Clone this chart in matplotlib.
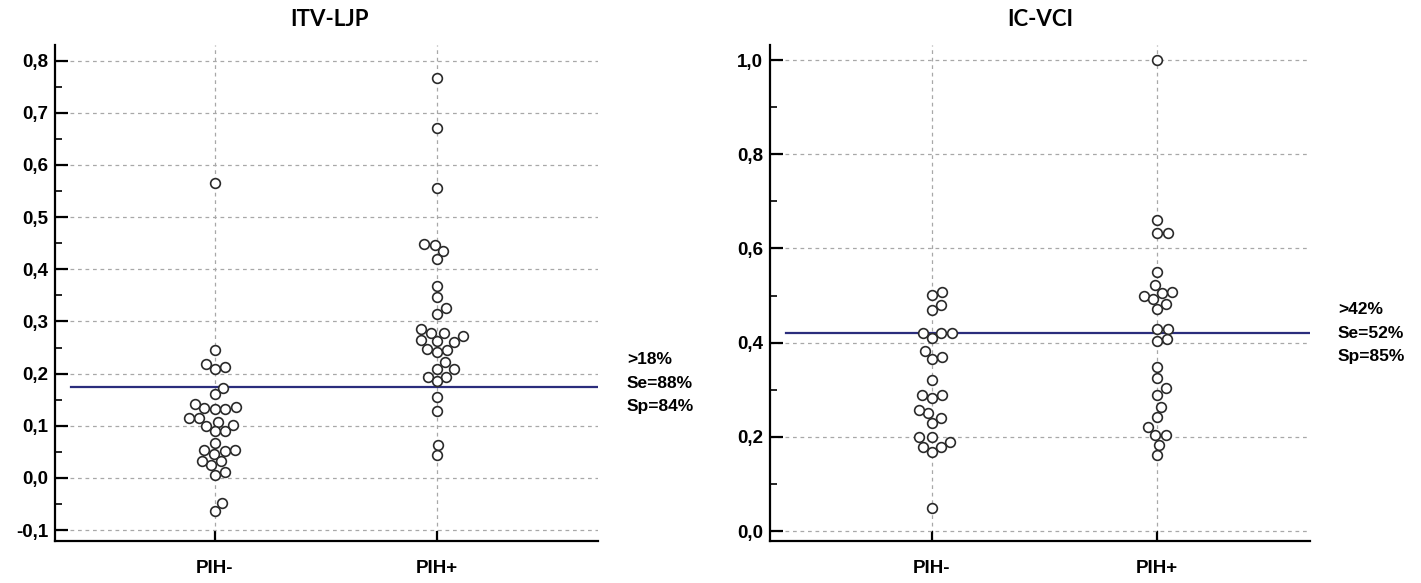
import numpy as np
import matplotlib
matplotlib.use("Agg")
import matplotlib.pyplot as plt
from matplotlib.ticker import MultipleLocator, FuncFormatter

plt.rcParams['font.family'] = ['Liberation Sans', 'DejaVu Sans']

groups = ["PIH-", "PIH+"]

# ITV-LJP
itv_neg = [0.565, 0.245, 0.209, 0.213, 0.219, 0.173, 0.160, 0.132, 0.132, 0.134,
           0.136, 0.141, 0.108, 0.115, 0.115, 0.089, 0.089, 0.099, 0.102, 0.067,
           0.046, 0.051, 0.054, 0.054, 0.032, 0.025, 0.032, 0.006, 0.012, -0.063,
           -0.049]
itv_pos = [0.767, 0.671, 0.556, 0.448, 0.446, 0.435, 0.419, 0.367, 0.346, 0.325,
           0.315, 0.286, 0.278, 0.277, 0.272, 0.264, 0.262, 0.260, 0.248, 0.245,
           0.241, 0.222, 0.208, 0.208, 0.194, 0.194, 0.185, 0.155, 0.128, 0.064,
           0.044]
itv_cut = 0.175
itv_text = ">18%\nSe=88%\nSp=84%"

# IC-VCI
ic_neg = [0.501, 0.508, 0.469, 0.481, 0.409, 0.420, 0.420, 0.420, 0.382, 0.365,
          0.370, 0.321, 0.282, 0.290, 0.290, 0.250, 0.258, 0.229, 0.240, 0.190,
          0.200, 0.200, 0.168, 0.179, 0.179, 0.050]
ic_pos = [1.000, 0.660, 0.632, 0.632, 0.551, 0.522, 0.508, 0.505, 0.499, 0.492,
          0.483, 0.471, 0.430, 0.430, 0.407, 0.403, 0.349, 0.324, 0.303, 0.290,
          0.264, 0.243, 0.221, 0.204, 0.204, 0.183, 0.161]
ic_cut = 0.42
ic_text = ">42%\nSe=52%\nSp=85%"


def swarm_offsets(ax, xc, vals, diam):
    # simple beeswarm in pixel space
    tr = ax.transData
    px = tr.transform([(xc, v) for v in vals])
    x0 = px[0, 0]
    ys = px[:, 1]
    order = np.argsort(ys)
    placed = []
    xs = np.zeros(len(vals))
    for i in order:
        y = ys[i]
        cands = [0.0]
        for (px_, py_) in placed:
            dy = y - py_
            if abs(dy) < diam:
                dx = np.sqrt(diam ** 2 - dy ** 2)
                cands += [px_ + dx, px_ - dx]
        cands = sorted(cands, key=abs)
        for c in cands:
            ok = all((c - px_) ** 2 + (y - py_) ** 2 >= diam ** 2 - 1e-6
                     for (px_, py_) in placed)
            if ok:
                xs[i] = c
                placed.append((c, y))
                break
    pts = np.column_stack([x0 + xs, ys])
    return tr.inverted().transform(pts)[:, 0]


def fmt(v, pos):
    return f"{v:.1f}".replace(".", ",")


fig = plt.figure(figsize=(14.21, 5.83), dpi=100)

panels = [
    dict(rect=[55 / 1421, 1 - 541 / 583, 543 / 1421, 496 / 583],
         ylim=(-0.121, 0.83), major=0.1, minor=0.05, xlim=(0.28, 2.725),
         data=[itv_neg, itv_pos], cut=itv_cut, text=itv_text,
         tx=627, ty=383, title="ITV-LJP", titx=330),
    dict(rect=[770 / 1421, 1 - 541 / 583, 540 / 1421, 496 / 583],
         ylim=(-0.021, 1.032), major=0.2, minor=0.1, xlim=(0.28, 2.68),
         data=[ic_neg, ic_pos], cut=ic_cut, text=ic_text,
         tx=1338, ty=333, title="IC-VCI", titx=1040),
]

for p in panels:
    ax = fig.add_axes(p["rect"])
    ax.set_xlim(*p["xlim"])
    ax.set_ylim(*p["ylim"])
    ax.yaxis.set_major_locator(MultipleLocator(p["major"]))
    ax.yaxis.set_minor_locator(MultipleLocator(p["minor"]))
    ax.yaxis.set_major_formatter(FuncFormatter(fmt))
    ax.set_xticks([1, 2])
    ax.set_xticklabels(groups)
    for s in ["top", "right"]:
        ax.spines[s].set_visible(False)
    for s in ["left", "bottom"]:
        ax.spines[s].set_linewidth(1.6)
    ax.tick_params(axis="y", which="major", direction="in", length=9, width=1.6,
                   pad=5, labelsize=13.5)
    ax.tick_params(axis="y", which="minor", direction="in", length=5, width=1.2)
    ax.tick_params(axis="x", direction="in", length=7, width=1.6, pad=14,
                   labelsize=13.5)
    for lab in ax.get_xticklabels() + ax.get_yticklabels():
        lab.set_fontweight("bold")
    ax.grid(True, which="major", color="#a8a8a8", linestyle=(0, (3, 3)),
            linewidth=0.9)
    ax.set_axisbelow(True)
    ax.axhline(p["cut"], xmin=0.03, xmax=1, color="#2b2d7c", linewidth=1.6,
               zorder=2)
    for k, vals in enumerate(p["data"]):
        xs = swarm_offsets(ax, k + 1, vals, 10.5)
        ax.plot(xs, vals, linestyle="none", marker="o", markersize=7,
                markerfacecolor="white", markeredgecolor="#2a2a2a",
                markeredgewidth=1.2, zorder=3)
    fig.text(p["tx"] / 1421, 1 - p["ty"] / 583, p["text"], fontsize=12.5,
             fontweight="bold", va="center", ha="left", linespacing=1.7)
    fig.text(p["titx"] / 1421, 1 - 20 / 583, p["title"], fontsize=16,
             fontweight="bold", ha="center", va="center", family=["Lato", "DejaVu Sans"])

fig.savefig("out.png", dpi=100)
